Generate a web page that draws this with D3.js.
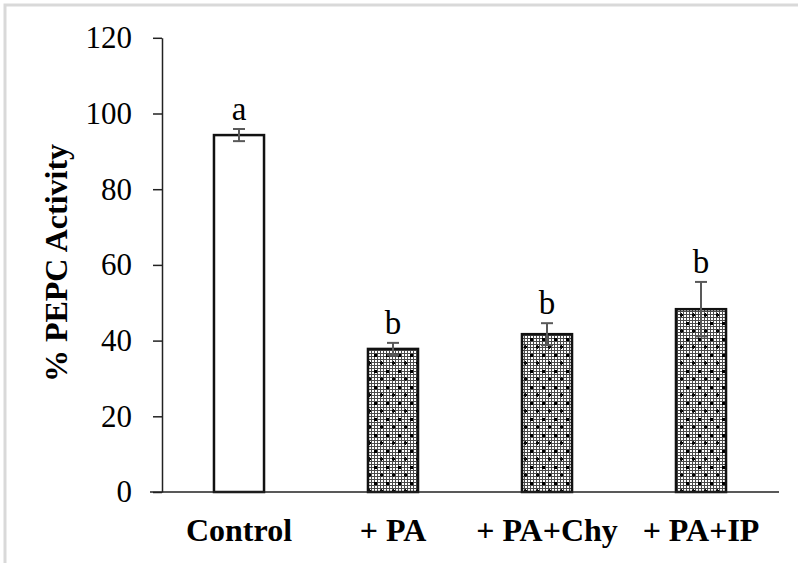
<!DOCTYPE html>
<html lang="en">
  <head>
    <meta charset="utf-8">
    <script src="https://d3js.org/d3.v7.min.js"></script>
    <style>
      body { margin: 0; background: #fff; }
      text { font-family: "Liberation Serif", "Times New Roman", serif; }
    </style>
  </head>
  <body>
    <svg id="chart"></svg>
    <script type="text/javascript">

    // data
    var groups = ["Control", "+ PA", "+ PA+Chy", "+ PA+IP"];
    var means = [94.3, 37.8, 41.7, 48.3];
    var errors = [1.6, 1.6, 2.9, 7.2];
    var letters = ["a", "b", "b", "b"];
    var yTicks = [0, 20, 40, 60, 80, 100, 120];

    var width = 798, height = 563;

    var svg = d3.select("#chart")
      .attr("width", width)
      .attr("height", height);

    // outer frame (only left/top visible in the picture)
    svg.append("rect")
      .attr("x", 5).attr("y", 5)
      .attr("width", 1000).attr("height", 1000)
      .attr("fill", "none")
      .attr("stroke", "#d9d9d9")
      .attr("stroke-width", 3);

    var defs = svg.append("defs");
    // fine grey texture
    var fine = defs.append("pattern")
      .attr("id", "fine")
      .attr("patternUnits", "userSpaceOnUse")
      .attr("width", 3).attr("height", 3);
    fine.append("rect").attr("width", 3).attr("height", 3).attr("fill", "#4a4a4a");
    fine.append("rect").attr("width", 2).attr("height", 2).attr("fill", "#fff");

    // coarse black marks on top
    var coarse = defs.append("pattern")
      .attr("id", "coarse")
      .attr("patternUnits", "userSpaceOnUse")
      .attr("width", 12).attr("height", 16);
    coarse.append("rect").attr("x", 2).attr("y", 2).attr("width", 3).attr("height", 3).attr("fill", "#000");
    coarse.append("rect").attr("x", 8).attr("y", 10).attr("width", 3).attr("height", 2).attr("fill", "#000");
    coarse.append("rect").attr("x", 9).attr("y", 9).attr("width", 1).attr("height", 4).attr("fill", "#111");

    var x = d3.scaleBand()
      .domain(groups)
      .range([162, 778])
      .paddingInner(0.675)
      .paddingOuter(0.3375);

    var y = d3.scaleLinear()
      .domain([0, 120])
      .range([492, 37.8]);

    // y axis
    var yAxis = svg.append("g")
      .attr("transform", "translate(" + x.range()[0] + ",0)")
      .call(d3.axisLeft(y).tickValues(yTicks).tickSize(9).tickSizeOuter(0).tickPadding(21));
    yAxis.select(".domain").attr("stroke", "#222").attr("stroke-width", 1.5);
    yAxis.selectAll(".tick line").attr("stroke", "#222").attr("stroke-width", 1.5);
    yAxis.selectAll(".tick text")
      .attr("font-family", "Liberation Serif")
      .attr("font-size", 31)
      .attr("fill", "#000");

    // bars
    var bars = svg.append("g");
    groups.forEach(function(g, i)
    {
      var bx = x(g), by = y(means[i]), bh = y(0) - y(means[i]);
      if (i == 0)
      {
        bars.append("rect")
          .attr("x", bx).attr("y", by)
          .attr("width", x.bandwidth()).attr("height", bh)
          .attr("fill", "#fff")
          .attr("stroke", "#111")
          .attr("stroke-width", 2.5);
      }
      else
      {
        bars.append("rect")
          .attr("x", bx).attr("y", by)
          .attr("width", x.bandwidth()).attr("height", bh)
          .attr("fill", "url(#fine)");
        bars.append("rect")
          .attr("x", bx).attr("y", by)
          .attr("width", x.bandwidth()).attr("height", bh)
          .attr("fill", "url(#coarse)")
          .attr("stroke", "#111")
          .attr("stroke-width", 2.5);
      }
    });

    // x axis line
    svg.append("line")
      .attr("x1", x.range()[0] - 12).attr("x2", x.range()[1] + 1)
      .attr("y1", y(0)).attr("y2", y(0))
      .attr("stroke", "#222").attr("stroke-width", 1.5);

    // error bars
    var eb = svg.append("g").attr("stroke", "#595959").attr("stroke-width", 2);
    groups.forEach(function(g, i)
    {
      var cx = x(g) + x.bandwidth() / 2;
      var top = y(means[i] + errors[i]), bot = y(means[i] - errors[i]);
      eb.append("line").attr("x1", cx).attr("x2", cx).attr("y1", top).attr("y2", bot);
      eb.append("line").attr("x1", cx - 6).attr("x2", cx + 6).attr("y1", top).attr("y2", top);
      eb.append("line").attr("x1", cx - 6).attr("x2", cx + 6).attr("y1", bot).attr("y2", bot);
    });

    // significance letters
    svg.selectAll(".sig")
      .data(groups)
      .enter()
      .append("text")
      .attr("class", "sig")
      .attr("x", function(d) { return x(d) + x.bandwidth() / 2; })
      .attr("y", function(d, i) { return y(means[i] + errors[i]) - 9; })
      .attr("text-anchor", "middle")
      .attr("font-size", 33)
      .attr("fill", "#000")
      .text(function(d, i) { return letters[i]; });

    // category labels
    svg.selectAll(".cat")
      .data(groups)
      .enter()
      .append("text")
      .attr("class", "cat")
      .attr("x", function(d) { return x(d) + x.bandwidth() / 2; })
      .attr("y", 541)
      .attr("text-anchor", "middle")
      .attr("font-size", 32)
      .attr("font-weight", "bold")
      .attr("fill", "#000")
      .text(function(d) { return d; });

    // y axis title
    svg.append("text")
      .attr("transform", "translate(67,263) rotate(-90)")
      .attr("text-anchor", "middle")
      .attr("font-size", 32)
      .attr("font-weight", "bold")
      .attr("fill", "#000")
      .text("% PEPC Activity");

    </script>
  </body>
</html>
